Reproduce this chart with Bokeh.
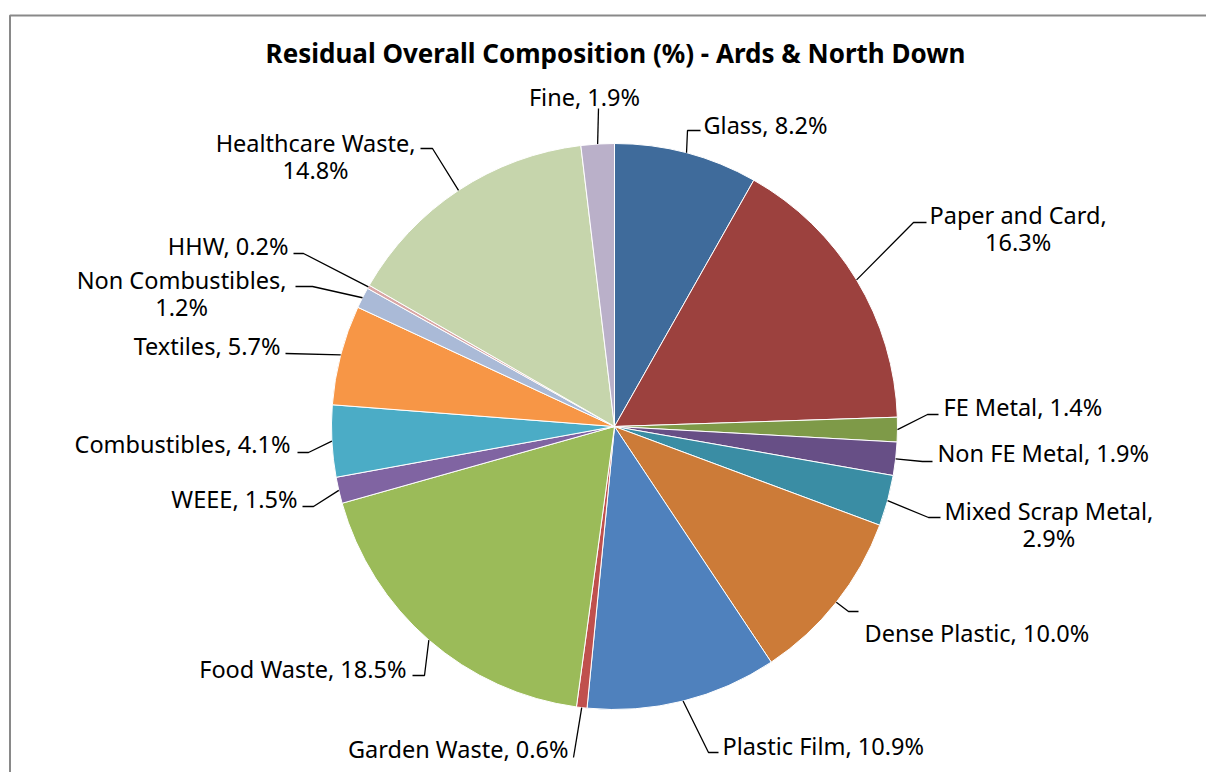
import math
from bokeh.plotting import figure
from bokeh.models import Range1d
from bokeh.core.properties import value
from bokeh.embed import file_html
from bokeh.resources import INLINE

# ---------------- data ----------------
categories = ["Glass", "Paper and Card", "FE Metal", "Non FE Metal", "Mixed Scrap Metal",
              "Dense Plastic", "Plastic Film", "Garden Waste", "Food Waste", "WEEE",
              "Combustibles", "Textiles", "Non Combustibles", "HHW", "Healthcare Waste", "Fine"]
percent = [8.2, 16.3, 1.4, 1.9, 2.9, 10.0, 10.9, 0.6, 18.5, 1.5, 4.1, 5.7, 1.2, 0.2, 14.8, 1.9]
title_text = "Residual Overall Composition (%) - Ards & North Down"

# ---------------- styles / layout ----------------
colors = ["#3F6B9B", "#9C413E", "#7E9A48", "#674F86", "#3A8DA4", "#CC7B38",
          "#4F81BD", "#C0504D", "#9BBB59", "#8064A2", "#4BACC6", "#F79646",
          "#AABAD7", "#D9A6A5", "#C6D5AC", "#BAB0C9"]

two_line = {"Paper and Card", "Mixed Scrap Metal", "Non Combustibles", "Healthcare Waste"}
# page-pixel layout: (label anchor x, y, anchor, elbow x, y, end x, y)
layout = [
    (703, 124, "center_left", 687, 130, 700, 130),
    (929, 228, "center_left", 913, 222, 926, 222),
    (943, 406, "center_left", 927, 414, 938, 414),
    (937, 452, "center_left", 922, 461, 932, 461),
    (944, 524, "center_left", 928, 517, 940, 517),
    (864, 632, "center_left", 848, 611, 858, 611),
    (722, 745, "center_left", 708, 752, 718, 752),
    (568, 748, "center_right", 573, 757, 573, 757),
    (406, 668, "center_right", 424, 675, 412, 675),
    (297, 498, "center_right", 313, 506, 302, 506),
    (290, 443, "center_right", 308, 452, 297, 452),
    (280, 345, "center_right", 285, 353, 285, 353),
    (286, 293, "center_right", 312, 286, 295, 286),
    (288, 245, "center_right", 303, 253, 293, 253),
    (415, 156, "center_right", 432, 148, 420, 148),
    (584, 96, "center", 598, 108, 598, 108),
]

W, H = 1206, 772
CX, CY, R = 614, 426, 283   # page pixels


def px(x):
    return x


def py(y):
    return H - y


p = figure(width=W, height=H, x_range=Range1d(0, W), y_range=Range1d(0, H),
           output_backend="svg", toolbar_location=None, min_border=0,
           x_axis_type=None, y_axis_type=None)
p.grid.visible = False
p.outline_line_color = None
p.background_fill_color = "white"
p.border_fill_color = "white"

# chart area border (cropped at right and bottom like the reference)
p.line(x=[px(9.5), px(9.5), px(1220)], y=[py(790), py(15), py(15)],
       line_color="#898989", line_width=2)

total = sum(percent)
starts, ends, mids = [], [], []
acc = 0.0
for v in percent:
    f0 = acc / total
    acc += v
    f1 = acc / total
    starts.append(math.pi / 2 - 2 * math.pi * f0)
    ends.append(math.pi / 2 - 2 * math.pi * f1)
    mids.append((f0 + f1) / 2)

p.wedge(x=px(CX), y=py(CY), radius=R, start_angle=starts, end_angle=ends,
        direction="clock", fill_color=colors, line_color="white", line_width=1)

font = value("Noto Sans")
for i, cat in enumerate(categories):
    lx, ly, anc, ex, ey, tx, ty = layout[i]
    th = 2 * math.pi * mids[i]
    edge_x = CX + R * math.sin(th)
    edge_y = CY - R * math.cos(th)
    p.line(x=[px(edge_x), px(ex), px(tx)], y=[py(edge_y), py(ey), py(ty)],
           line_color="black", line_width=1.3)
    sep = "\n" if cat in two_line else " "
    txt = f"{cat},{sep}{percent[i]:.1f}%"
    p.text(x=[px(lx)], y=[py(ly)], text=[txt], anchor=anc, text_align="center",
           text_baseline="middle", text_font=font, text_font_size="23.5px",
           text_color="black", text_line_height=0.86)

p.text(x=[px(615)], y=[py(52)], text=[title_text], text_align="center",
       text_baseline="middle", text_font=font, text_font_size="26px",
       text_font_style="bold", text_color="black")

open("out.html", "w").write(file_html(p, INLINE))
